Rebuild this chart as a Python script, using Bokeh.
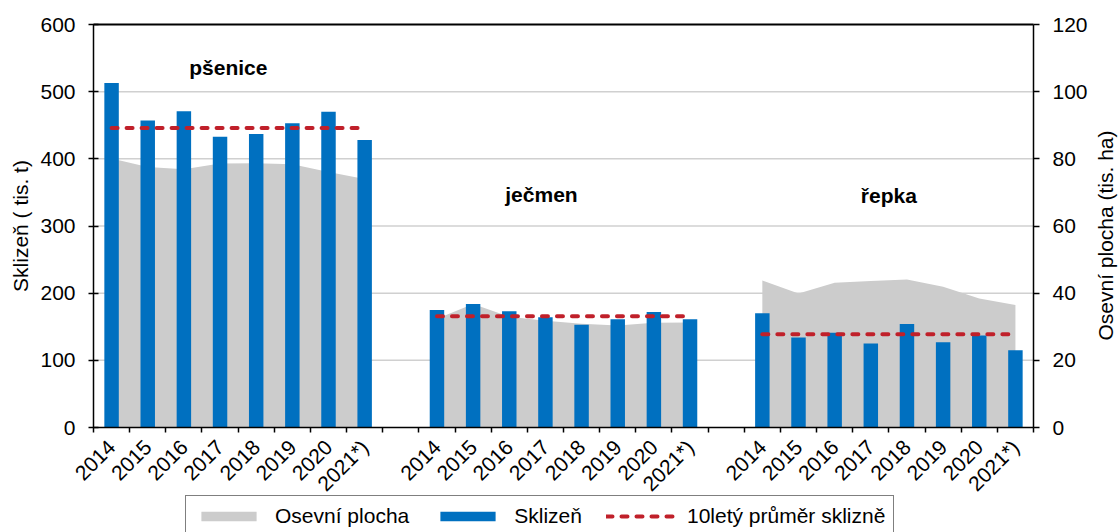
import numpy as np
from bokeh.plotting import figure
from bokeh.models import (Range1d, LinearAxis, FixedTicker, Legend, LegendItem,
                          Label)
from bokeh.embed import file_html
from bokeh.resources import INLINE

# ---------------- data ----------------
years = ["2014", "2015", "2016", "2017", "2018", "2019", "2020", "2021*)"]
crops = ["pšenice", "ječmen", "řepka"]

harvest_psenice = [513, 457, 471, 433, 437, 453, 470, 428]
harvest_jecmen = [175, 184, 173, 164, 153, 161, 172, 161]
harvest_repka = [170, 134, 141, 125, 154, 127, 137, 115]

area_psenice = [80.1, 77.6, 76.9, 78.6, 78.7, 78.4, 76.1, 74.0]
area_jecmen = [32.4, 36.8, 33.0, 31.8, 30.9, 30.4, 31.2, 31.3]
area_repka = [43.8, 39.9, 43.1, 43.6, 44.1, 41.9, 38.4, 36.5]

avg10 = [446, 165.5, 139]

left_ticks = [0, 100, 200, 300, 400, 500, 600]
right_ticks = [0, 20, 40, 60, 80, 100, 120]

left_title = "Sklizeň ( tis. t)"
right_title = "Osevní plocha (tis. ha)"
legend_labels = ["Osevní plocha", "Sklizeň", "10letý průměr sklizně"]

harvests = [harvest_psenice, harvest_jecmen, harvest_repka]
areas = [area_psenice, area_jecmen, area_repka]

FONT = "Liberation Sans"
BLUE = "#0070C0"
GREY = "#CCCCCC"
RED = "#C0202A"
GRID = "#D0D0D0"
DASH = "6 9"

n_per = len(years)
step = n_per + 1
n_slots = len(crops) * step - 1
x_lo, x_hi = -0.5, n_slots - 0.5

# ---- pixel layout: the frame covers the whole canvas, axes sit at fixed spots
FIG_W, FIG_H = 1119, 532
PLOT_L, PLOT_R, PLOT_T, PLOT_B = 93, 1033, 24, 427
x_per_px = (x_hi - x_lo) / (PLOT_R - PLOT_L)
y_per_px = left_ticks[-1] / (PLOT_B - PLOT_T)
x_start = x_lo - PLOT_L * x_per_px
x_end = x_hi + (FIG_W - PLOT_R) * x_per_px
y_end = left_ticks[-1] + PLOT_T * y_per_px
y_start = -(FIG_H - PLOT_B) * y_per_px
r_ratio = right_ticks[-1] / left_ticks[-1]

p = figure(width=FIG_W, height=FIG_H,
           x_range=Range1d(x_start, x_end), y_range=Range1d(y_start, y_end),
           x_axis_type=None, y_axis_type=None,
           output_backend="svg", toolbar_location=None,
           min_border_left=0, min_border_right=0,
           min_border_top=0, min_border_bottom=0)
p.extra_y_ranges = {"area": Range1d(y_start * r_ratio, y_end * r_ratio)}
p.outline_line_color = None
p.background_fill_color = "white"
p.border_fill_color = "white"
p.xgrid.visible = False
p.ygrid.visible = False

# horizontal gridlines between the two value axes
grid_vals = left_ticks[1:-1]
p.segment(x0=[x_lo] * len(grid_vals), x1=[x_hi] * len(grid_vals),
          y0=grid_vals, y1=grid_vals, line_color=GRID, line_width=1.5)

renderers = []
label_pos, label_txt = [], []
for g in range(len(crops)):
    xs = [g * step + i for i in range(n_per)]
    label_pos += xs
    label_txt += years
    ra = p.varea(x=xs, y1=[0] * n_per, y2=areas[g], y_range_name="area",
                 fill_color=GREY)
    rb = p.vbar(x=xs, top=harvests[g], bottom=0, width=0.4, fill_color=BLUE,
                line_color=None)
    rl = p.line(x=[xs[0], xs[-1]], y=[avg10[g], avg10[g]], line_color=RED,
                line_width=4, line_dash=DASH, line_cap="round")
    if g == 0:
        renderers = [ra, rb, rl]

# group labels
group_x = [3.23, 11.89, 21.5]
group_y = [536, 347, 345]
for name, gx, gy in zip(crops, group_x, group_y):
    p.add_layout(Label(x=gx, y=gy, text=name, text_align="center",
                       text_baseline="middle", text_font=FONT,
                       text_font_size="21px", text_font_style="bold",
                       text_color="black"))

# value-axis titles
p.add_layout(Label(x=x_start + 20 * x_per_px, y=left_ticks[-1] / 2,
                   text=left_title, angle=np.pi / 2, text_align="center",
                   text_baseline="middle", text_font=FONT,
                   text_font_size="21px", text_color="black"))
p.add_layout(Label(x=x_start + 1105 * x_per_px, y=(PLOT_B - 235) * y_per_px,
                   text=right_title, angle=np.pi / 2, text_align="center",
                   text_baseline="middle", text_font=FONT,
                   text_font_size="21px", text_color="black"))

# value axes
yl = LinearAxis(ticker=FixedTicker(ticks=left_ticks),
                bounds=(0, left_ticks[-1]), fixed_location=x_lo)
yr = LinearAxis(y_range_name="area", ticker=FixedTicker(ticks=right_ticks),
                bounds=(0, right_ticks[-1]), fixed_location=x_hi)
for ax, tin, tout, so in ((yl, 5, 5, 13), (yr, 0, 6, 13)):
    ax.axis_line_color = "black"
    ax.axis_line_width = 1.5
    ax.major_tick_line_color = "black"
    ax.major_tick_line_width = 1.5
    ax.major_tick_in = tin
    ax.major_tick_out = tout
    ax.minor_tick_line_color = None
    ax.major_label_standoff = so
    ax.major_label_text_font = FONT
    ax.major_label_text_font_size = "21px"
    ax.major_label_text_color = "black"
p.add_layout(yl, "left")
p.add_layout(yr, "right")

# top border line
top_ax = LinearAxis(ticker=FixedTicker(ticks=[]), bounds=(x_lo, x_hi),
                    fixed_location=left_ticks[-1],
                    axis_line_color="black", axis_line_width=2,
                    major_tick_line_color=None, minor_tick_line_color=None,
                    major_label_text_font_size="0px")
p.add_layout(top_ax, "above")

# category axis
boundaries = [x_lo + i for i in range(n_slots + 1)]
xa = LinearAxis(ticker=FixedTicker(ticks=label_pos, minor_ticks=boundaries),
                major_label_overrides={int(k): v for k, v in zip(label_pos, label_txt)},
                major_label_orientation=np.pi / 4, fixed_location=0,
                bounds=(x_lo, x_hi))
xa.axis_line_color = "black"
xa.axis_line_width = 1.5
xa.major_tick_in = 0
xa.major_tick_out = 0
xa.major_tick_line_color = None
xa.minor_tick_line_color = "black"
xa.minor_tick_line_width = 1.5
xa.minor_tick_in = 0
xa.minor_tick_out = 5
xa.major_label_standoff = 11
xa.major_label_text_font = FONT
xa.major_label_text_font_size = "21px"
xa.major_label_text_color = "black"
p.add_layout(xa, "below")

legend = Legend(items=[LegendItem(label=lbl, renderers=[r])
                       for lbl, r in zip(legend_labels, renderers)],
                orientation="horizontal", location=(185, -5),
                label_text_font=FONT, label_text_font_size="21px",
                label_text_color="black",
                glyph_width=69, glyph_height=12, label_standoff=12,
                spacing=24, padding=8, margin=0,
                border_line_color="black", border_line_width=1,
                background_fill_color="white", background_fill_alpha=1)
p.add_layout(legend)

open("out.html", "w").write(file_html(p, INLINE))
